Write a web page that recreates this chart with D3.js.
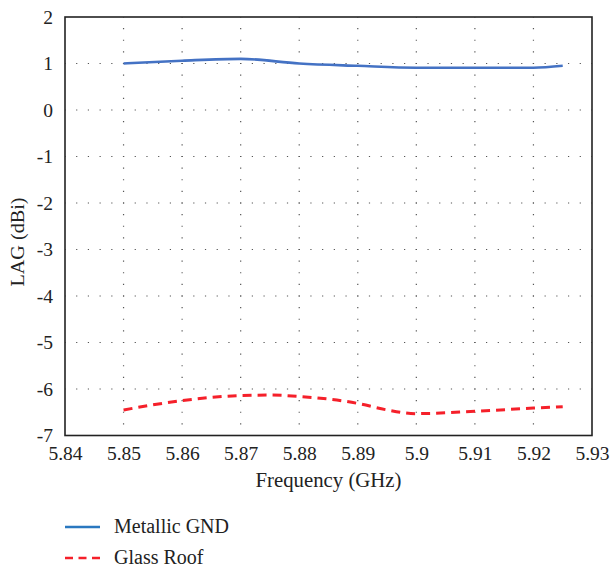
<!DOCTYPE html>
<html><head><meta charset="utf-8">
<script src="https://cdn.jsdelivr.net/npm/d3@7"></script>
<style>body{margin:0;background:#fff}svg{display:block}</style>
</head><body>
<svg id="c" width="611" height="568"></svg>
<script>
const xTicks = [5.84,5.85,5.86,5.87,5.88,5.89,5.9,5.91,5.92,5.93];
const yTicks = [-7,-6,-5,-4,-3,-2,-1,0,1,2];
const metalX = [5.85,5.86,5.87,5.88,5.89,5.9,5.91,5.92,5.925];
const metalY = [1.0,1.06,1.1,1.0,0.95,0.91,0.91,0.91,0.95];
const glassX = [5.85,5.86,5.87,5.875,5.88,5.89,5.895,5.9,5.91,5.92,5.925];
const glassY = [-6.45,-6.25,-6.14,-6.13,-6.16,-6.31,-6.45,-6.53,-6.48,-6.41,-6.38];
const seriesNames = ["Metallic GND","Glass Roof"];

const FONT = "'Liberation Serif','Times New Roman',Times,'DejaVu Serif',serif";
const svg = d3.select("#c");
const L=65,R=592,T=17,B=435.5;
const x = d3.scaleLinear().domain([5.84,5.93]).range([L,R]);
const y = d3.scaleLinear().domain([-7,2]).range([B,T]);

// grid
const g = svg.append("g");
const hs = (x(5.85)-x(5.84))/5, vs = (y(1)-y(2))/4;
xTicks.slice(1,-1).forEach(t=>{
  g.append("line").attr("x1",x(t)).attr("x2",x(t)).attr("y1",T).attr("y2",B)
   .attr("stroke","#555").attr("stroke-width",1.2)
   .attr("stroke-dasharray",`1.2,${vs-1.2}`).attr("stroke-dashoffset",0.6);
});
yTicks.slice(1,-1).forEach(t=>{
  g.append("line").attr("y1",y(t)).attr("y2",y(t)).attr("x1",L).attr("x2",R)
   .attr("stroke","#555").attr("stroke-width",1.2)
   .attr("stroke-dasharray",`1.2,${hs-1.2}`).attr("stroke-dashoffset",0.6);
});

// axes
const xa = svg.append("g").attr("transform",`translate(0,${B})`)
  .call(d3.axisBottom(x).tickValues(xTicks).tickSize(0).tickPadding(11).tickFormat(d=>String(+d.toFixed(2))));
const ya = svg.append("g").attr("transform",`translate(${L},0)`)
  .call(d3.axisLeft(y).tickValues(yTicks).tickSize(0).tickPadding(12).tickFormat(d=>String(d)));
[xa,ya].forEach(a=>{a.attr("font-family",FONT).attr("font-size",19.5);a.select(".domain").remove();a.selectAll("text").attr("fill","#222");});
svg.append("rect").attr("x",L).attr("y",T).attr("width",R-L).attr("height",B-T)
  .attr("fill","none").attr("stroke","#222").attr("stroke-width",1.6);

// lines
const line = d3.line().x(d=>x(d[0])).y(d=>y(d[1])).curve(d3.curveMonotoneX);
svg.append("path").datum(metalX.map((v,i)=>[v,metalY[i]])).attr("d",line)
  .attr("fill","none").attr("stroke","#4472c4").attr("stroke-width",2.6);
svg.append("path").datum(glassX.map((v,i)=>[v,glassY[i]])).attr("d",line)
  .attr("fill","none").attr("stroke","#f5202a").attr("stroke-width",3).attr("stroke-dasharray","9,6");

// titles
svg.append("text").attr("x",(L+R)/2).attr("y",487).attr("text-anchor","middle")
  .attr("font-family",FONT).attr("font-size",20.5).attr("fill","#222")
  .attr("textLength",146).attr("lengthAdjust","spacingAndGlyphs").text("Frequency (GHz)");
svg.append("text").attr("transform",`translate(24,242) rotate(-90)`).attr("text-anchor","middle")
  .attr("font-family",FONT).attr("font-size",19.5).attr("fill","#222")
  .attr("textLength",89).attr("lengthAdjust","spacingAndGlyphs").text("LAG (dBi)");

// legend
const lg = svg.append("g");
const cols = ["#2a78c0","#f5202a"], dashes=[null,"8,5.5"], ly=[527,558];
seriesNames.forEach((n,i)=>{
  lg.append("line").attr("x1",65).attr("x2",100).attr("y1",ly[i]).attr("y2",ly[i])
    .attr("stroke",cols[i]).attr("stroke-width",2.6).attr("stroke-dasharray",dashes[i]);
  lg.append("text").attr("x",114).attr("y",ly[i]+6).attr("font-family",FONT).attr("font-size",20)
    .attr("fill","#222").text(n);
});
</script>
</body></html>
